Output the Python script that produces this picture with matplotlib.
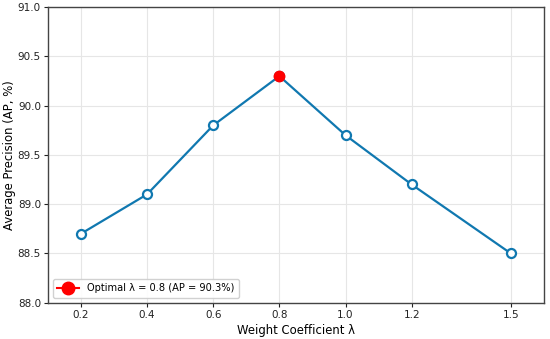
import numpy as np
import matplotlib.pyplot as plt

# Données
weights = [0.2, 0.4, 0.6, 0.8, 1.0, 1.2, 1.5]
ap_values = [88.7, 89.1, 89.8, 90.3, 89.7, 89.2, 88.5]
best_idx = 3
tick_labels = ["0.2", "0.4", "0.6", "0.8", "1.0", "1.2", "1.5"]

line_color = "#1078b0"

fig, ax = plt.subplots(figsize=(5.5, 3.39), dpi=100)
fig.subplots_adjust(left=0.087, right=0.989, top=0.979, bottom=0.107)

ax.plot(weights, ap_values, color=line_color, linewidth=1.6, marker="o",
        markersize=6.5, markerfacecolor="white", markeredgecolor=line_color,
        markeredgewidth=1.6, zorder=3)

# point optimal (trait visible seulement dans la légende)
ax.plot(weights[best_idx], ap_values[best_idx], "o-", color="red",
        markersize=7.5, zorder=4,
        label=f"Optimal λ = {weights[best_idx]} (AP = {ap_values[best_idx]}%)")

ax.set_xlim(0.1, 1.6)
ax.set_ylim(88.0, 91.0)
ax.set_xticks(weights)
ax.set_xticklabels(tick_labels)
ax.set_yticks(np.arange(88.0, 91.01, 0.5))
ax.tick_params(labelsize=7.5, colors="#222222", length=3, pad=2.0)

ax.grid(True, color="#e6e6e6", linewidth=0.8)
ax.set_axisbelow(True)
for sp in ax.spines.values():
    sp.set_color("#444444")
    sp.set_linewidth(1.0)

ax.set_xlabel("Weight Coefficient λ", fontsize=8.4, labelpad=3)
ax.set_ylabel("Average Precision (AP, %)", fontsize=8.4, labelpad=1.5)

ax.legend(loc="lower left", fontsize=7.1, frameon=True, framealpha=0.9,
          edgecolor="#cccccc", borderpad=0.45, handlelength=2.2,
          markerscale=1.2)

plt.savefig("out.png", dpi=100)
